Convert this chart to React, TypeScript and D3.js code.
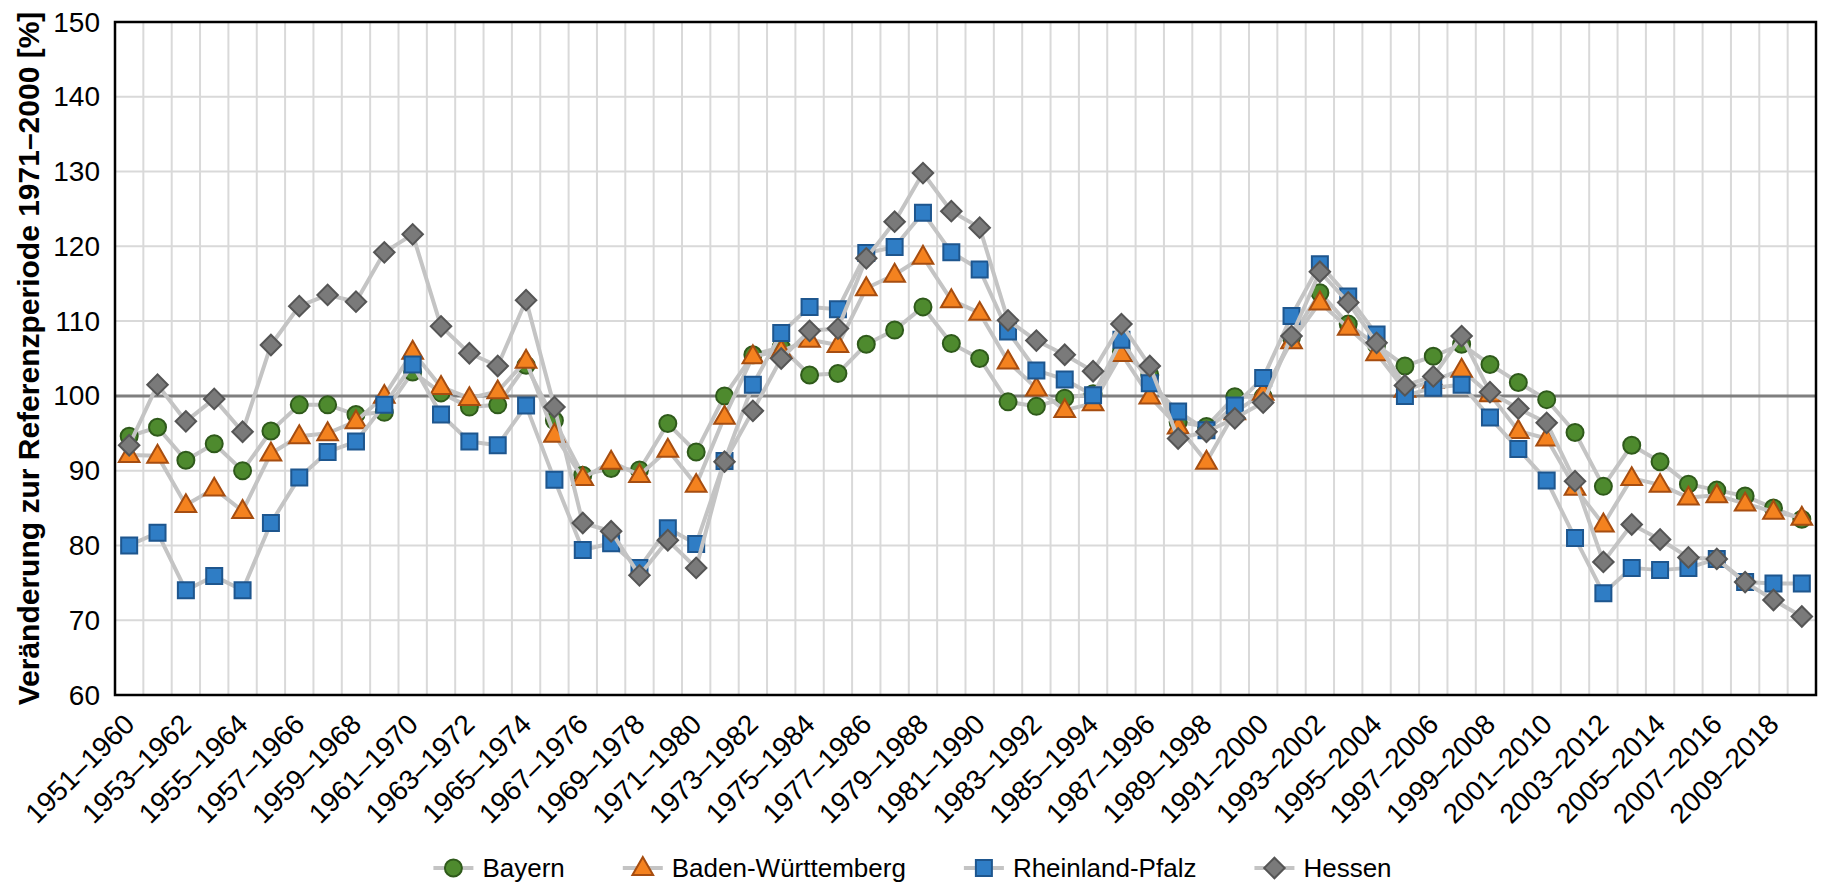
import React from "react";
import * as d3 from "d3";

// 10-year moving periods
const periods = [
  "1951–1960", "1952–1961", "1953–1962", "1954–1963", "1955–1964", "1956–1965",
  "1957–1966", "1958–1967", "1959–1968", "1960–1969", "1961–1970", "1962–1971",
  "1963–1972", "1964–1973", "1965–1974", "1966–1975", "1967–1976", "1968–1977",
  "1969–1978", "1970–1979", "1971–1980", "1972–1981", "1973–1982", "1974–1983",
  "1975–1984", "1976–1985", "1977–1986", "1978–1987", "1979–1988", "1980–1989",
  "1981–1990", "1982–1991", "1983–1992", "1984–1993", "1985–1994", "1986–1995",
  "1987–1996", "1988–1997", "1989–1998", "1990–1999", "1991–2000", "1992–2001",
  "1993–2002", "1994–2003", "1995–2004", "1996–2005", "1997–2006", "1998–2007",
  "1999–2008", "2000–2009", "2001–2010", "2002–2011", "2003–2012", "2004–2013",
  "2005–2014", "2006–2015", "2007–2016", "2008–2017", "2009–2018", "2010–2019",
];

const bayern = [
  94.6, 95.8, 91.4, 93.6, 90.0, 95.3, 98.8, 98.8, 97.5, 97.8,
  103.2, 100.4, 98.5, 98.8, 104.1, 96.7, 89.4, 90.3, 90.1, 96.3,
  92.5, 100.0, 105.5, 106.5, 102.8, 103.0, 106.9, 108.8, 111.9, 107.0,
  105.0, 99.2, 98.6, 99.7, 100.3, 105.9, 102.8, 96.5, 95.9, 99.9,
  99.9, 107.8, 113.8, 109.6, 106.8, 104.0, 105.3, 106.9, 104.2, 101.8,
  99.5, 95.1, 87.9, 93.4, 91.2, 88.2, 87.4, 86.6, 85.0, 83.5,
];

const badenWuerttemberg = [
  92.1, 92.0, 85.4, 87.6, 84.6, 92.3, 94.6, 95.0, 96.6, 100.0,
  105.9, 101.2, 99.7, 100.6, 104.7, 94.8, 89.0, 91.2, 89.4, 92.8,
  88.1, 97.2, 105.3, 106.0, 107.5, 106.8, 114.4, 116.2, 118.6, 112.8,
  111.1, 104.6, 101.0, 98.1, 99.0, 105.6, 99.9, 95.9, 91.2, 97.8,
  100.4, 107.3, 112.5, 109.1, 105.7, 100.8, 102.0, 103.5, 100.2, 95.3,
  94.3, 87.7, 82.8, 89.0, 88.1, 86.4, 86.7, 85.6, 84.5, 83.7,
];

const rheinlandPfalz = [
  80.0, 81.7, 74.0, 75.9, 74.0, 83.0, 89.1, 92.5, 93.9, 98.8,
  104.2, 97.5, 93.9, 93.4, 98.7, 88.8, 79.4, 80.3, 77.0, 82.3,
  80.2, 91.3, 101.5, 108.4, 111.9, 111.6, 119.1, 119.9, 124.5, 119.2,
  116.9, 108.6, 103.4, 102.2, 100.1, 107.5, 101.7, 97.9, 95.4, 98.7,
  102.4, 110.7, 117.6, 113.3, 108.2, 100.0, 101.1, 101.5, 97.1, 92.9,
  88.7, 81.0, 73.6, 77.0, 76.7, 77.0, 78.2, 75.1, 74.9, 74.9,
];

const hessen = [
  93.4, 101.5, 96.6, 99.6, 95.2, 106.8, 112.0, 113.5, 112.6, 119.2,
  121.6, 109.3, 105.7, 104.0, 112.8, 98.5, 83.0, 81.9, 76.0, 80.7,
  77.0, 91.2, 98.0, 105.0, 108.7, 109.0, 118.4, 123.3, 129.8, 124.7,
  122.5, 110.1, 107.4, 105.5, 103.3, 109.6, 104.0, 94.3, 95.2, 97.0,
  99.1, 108.0, 116.6, 112.5, 107.1, 101.4, 102.6, 108.0, 100.5, 98.3,
  96.4, 88.6, 77.8, 82.8, 80.8, 78.4, 78.2, 75.1, 72.7, 70.5,
];

const yTicks = [60, 70, 80, 90, 100, 110, 120, 130, 140, 150];
const referenceValue = 100;

const seriesNames = ["Bayern", "Baden-Württemberg", "Rheinland-Pfalz", "Hessen"];
const seriesValues = [bayern, badenWuerttemberg, rheinlandPfalz, hessen];

type MarkerStyle = { shape: string; fill: string; stroke: string };
const markerStyles: MarkerStyle[] = [
  { shape: "circle", fill: "#4e8a2e", stroke: "#2f5a1b" },
  { shape: "triangle", fill: "#f4821f", stroke: "#a64d10" },
  { shape: "square", fill: "#2f7dc5", stroke: "#1e568e" },
  { shape: "diamond", fill: "#7a7a7a", stroke: "#555555" },
];

const W = 1825;
const H = 892;
const plot = { left: 115, right: 1816, top: 22, bottom: 695 };
const FONT = "'Liberation Sans', Arial, Helvetica, sans-serif";

function markerPath(shape: string): string {
  const gen = d3.symbol();
  if (shape === "circle") return gen.type(d3.symbolCircle).size(Math.PI * 8.5 * 8.5)() || "";
  if (shape === "triangle") return gen.type(d3.symbolTriangle).size(185)() || "";
  if (shape === "square") return gen.type(d3.symbolSquare).size(16 * 16)() || "";
  return gen.type(d3.symbolSquare).size(14.5 * 14.5)() || "";
}

function Marker({ style, x, y }: { style: MarkerStyle; x: number; y: number }) {
  const rot = style.shape === "diamond" ? " rotate(45)" : "";
  const dy = style.shape === "triangle" ? 1 : 0;
  return (
    <path
      d={markerPath(style.shape)}
      transform={`translate(${x},${y + dy})${rot}`}
      fill={style.fill}
      stroke={style.stroke}
      strokeWidth={2}
      strokeLinejoin="miter"
    />
  );
}

function textWidth(text: string, font: string): number {
  const canvas = document.createElement("canvas");
  const ctx = canvas.getContext("2d");
  if (!ctx) return text.length * 14;
  ctx.font = font;
  return ctx.measureText(text).width;
}

export default function App() {
  React.useEffect(() => {
    document.body.style.margin = "0";
  }, []);

  const x = d3.scaleBand<string>().domain(periods).range([plot.left, plot.right]).padding(0);
  const y = d3.scaleLinear().domain([60, 150]).range([plot.bottom, plot.top]);
  const cx = (p: string) => (x(p) ?? 0) + x.bandwidth() / 2;

  const line = d3
    .line<number>()
    .x((_, i) => cx(periods[i]))
    .y((d) => y(d));

  // vertical grid lines sit on band boundaries
  const bandEdges = periods.map((p) => x(p) ?? 0).concat([plot.right]);

  // legend layout
  const legendFontSize = 26;
  const legendFont = `${legendFontSize}px ${FONT}`;
  const symW = 40;
  const symGap = 9;
  const itemGap = 58;
  const widths = seriesNames.map((n) => textWidth(n, legendFont));
  const total =
    widths.reduce((a, b) => a + b, 0) + seriesNames.length * (symW + symGap) + itemGap * (seriesNames.length - 1);
  let lx = W / 2 - total / 2;
  const legendItems = seriesNames.map((n, i) => {
    const start = lx;
    lx += symW + symGap + widths[i] + itemGap;
    return { name: n, start, style: markerStyles[i] };
  });
  const legendY = 868;

  return (
    <svg
      width={W}
      height={H}
      viewBox={`0 0 ${W} ${H}`}
      style={{ display: "block", position: "absolute", left: 0, top: 0, background: "#ffffff" }}
      fontFamily={FONT}
    >
      <rect x={0} y={0} width={W} height={H} fill="#ffffff" />

      {/* grid */}
      <g stroke="#d9d9d9" strokeWidth={2}>
        {bandEdges.map((e, i) => (
          <line key={`v${i}`} x1={e} x2={e} y1={plot.top} y2={plot.bottom} />
        ))}
        {yTicks.map((t) => (
          <line key={`h${t}`} x1={plot.left} x2={plot.right} y1={y(t)} y2={y(t)} />
        ))}
      </g>

      {/* reference level */}
      <line
        x1={plot.left}
        x2={plot.right}
        y1={y(referenceValue)}
        y2={y(referenceValue)}
        stroke="#7f7f7f"
        strokeWidth={3}
      />

      {/* series */}
      {seriesValues.map((vals, si) => (
        <g key={seriesNames[si]}>
          <path d={line(vals) || ""} fill="none" stroke="#c4c4c4" strokeWidth={4} strokeLinejoin="round" />
          {vals.map((v, i) => (
            <Marker key={i} style={markerStyles[si]} x={cx(periods[i])} y={y(v)} />
          ))}
        </g>
      ))}

      {/* plot frame */}
      <rect
        x={plot.left}
        y={plot.top}
        width={plot.right - plot.left}
        height={plot.bottom - plot.top}
        fill="none"
        stroke="#000000"
        strokeWidth={2.5}
      />

      {/* y axis */}
      {yTicks.map((t) => (
        <text
          key={`yt${t}`}
          x={plot.left - 15}
          y={y(t)}
          textAnchor="end"
          dominantBaseline="central"
          fontSize={28}
          fill="#000"
        >
          {t}
        </text>
      ))}
      <text
        transform={`translate(28,${(plot.top + plot.bottom) / 2}) rotate(-90)`}
        textAnchor="middle"
        dominantBaseline="central"
        fontSize={30}
        fontWeight="bold"
        fill="#000"
      >
        Veränderung zur Referenzperiode 1971–2000 [%]
      </text>

      {/* x axis labels, every second period */}
      {periods.map((p, i) =>
        i % 2 === 0 ? (
          <text
            key={`xt${p}`}
            transform={`translate(${cx(p) + 7},${plot.bottom + 31}) rotate(-45)`}
            textAnchor="end"
            fontSize={28}
            fill="#000"
          >
            {p}
          </text>
        ) : null
      )}

      {/* legend */}
      {legendItems.map((it) => (
        <g key={it.name}>
          <line
            x1={it.start}
            x2={it.start + symW}
            y1={legendY}
            y2={legendY}
            stroke="#c4c4c4"
            strokeWidth={4}
          />
          <Marker style={it.style} x={it.start + symW / 2} y={legendY} />
          <text
            x={it.start + symW + symGap}
            y={legendY}
            dominantBaseline="central"
            fontSize={legendFontSize}
            fill="#000"
          >
            {it.name}
          </text>
        </g>
      ))}
    </svg>
  );
}
